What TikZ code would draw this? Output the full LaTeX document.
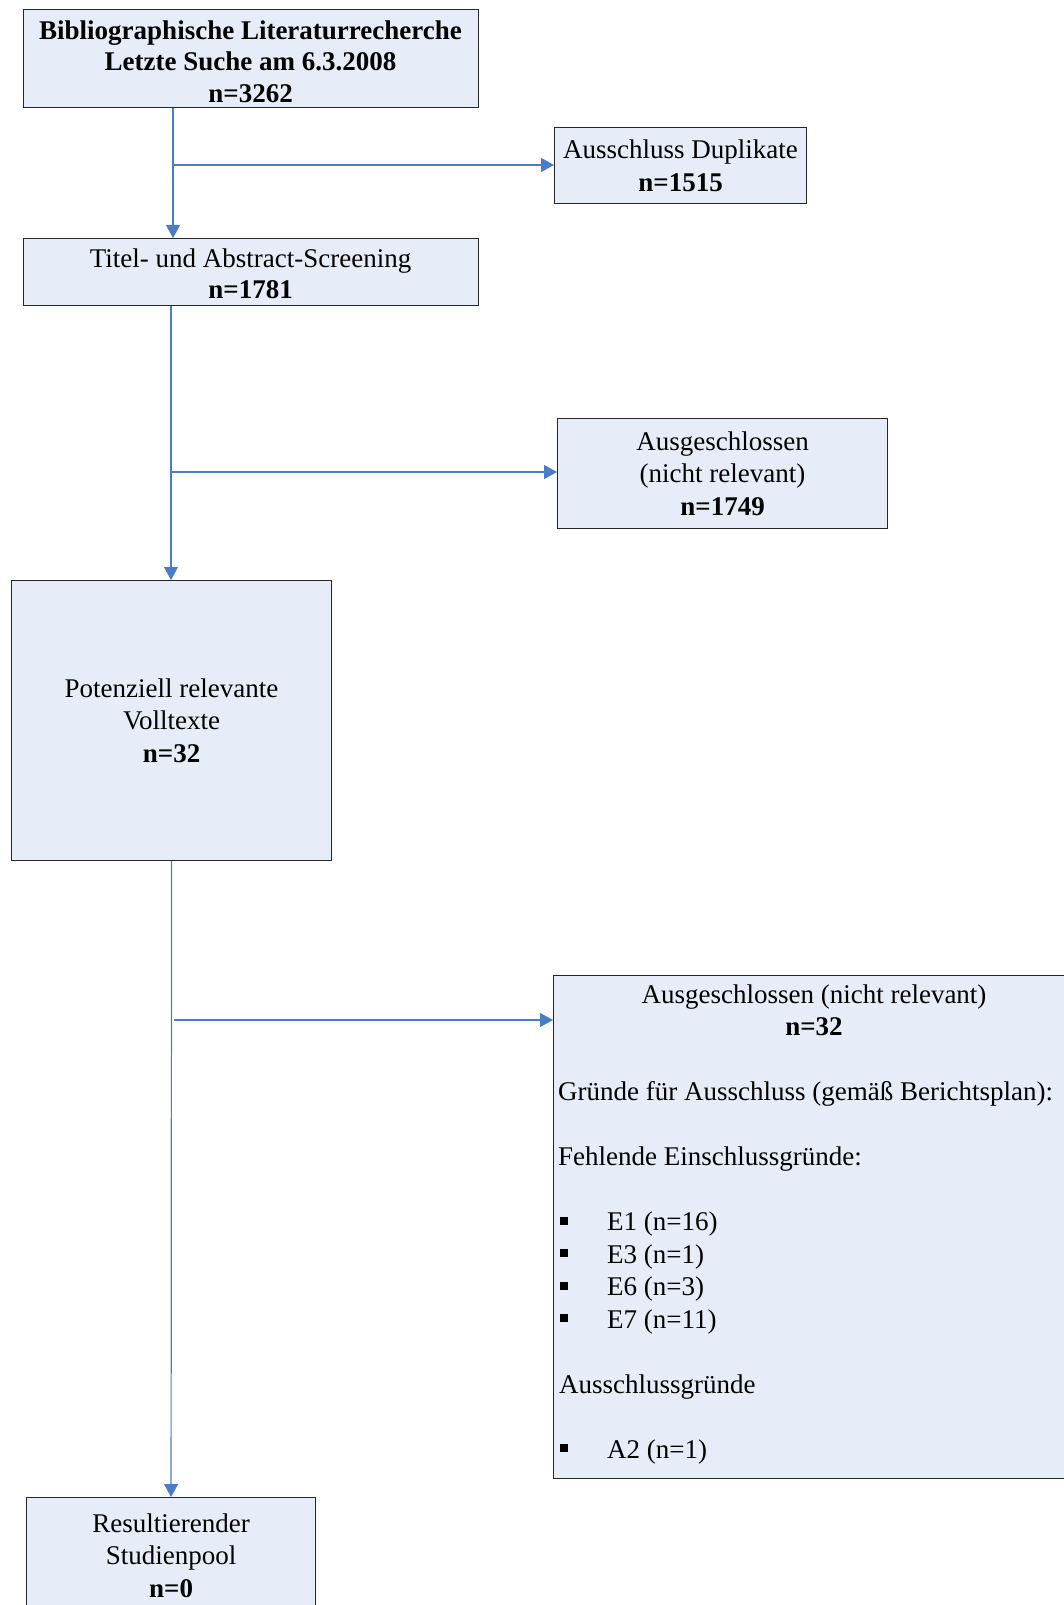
\documentclass[tikz,border=0pt]{standalone}
\usepackage{fontspec}
\setmainfont{Liberation Serif}
\usetikzlibrary{arrows.meta}
\definecolor{boxfill}{HTML}{E7EDF8}
\definecolor{flow}{HTML}{4A7CC7}
\begin{document}
\begin{tikzpicture}[x=1pt,y=-1pt,
  box/.style={draw=black!85, line width=1.1pt, fill=boxfill, inner sep=0pt,
    align=center, anchor=north west, font=\fontsize{27}{32.5}\selectfont},
  flowline/.style={draw=flow, line width=1.2pt},
  flowarrow/.style={flowline, -{Triangle[length=13pt,width=14pt]}},
  txt/.style={inner sep=0pt, anchor=base west, font=\fontsize{27}{32.5}\selectfont},
  sq/.style={fill=black, inner sep=0pt, minimum size=8pt}]
\useasboundingbox (0,0) rectangle (1063,1605);

% main boxes
\node[box, minimum width=455pt, minimum height=98pt, font=\fontsize{27}{31.5}\selectfont] (top) at (22.5,9)
  {\rule{0pt}{25pt}\textbf{Bibliographische Literaturrecherche}\\\textbf{Letzte Suche am 6.3.2008}\\\textbf{n=3262}};
\node[box, minimum width=455pt, minimum height=67pt, font=\fontsize{27}{31}\selectfont] (titel) at (22.5,238)
  {\rule{0pt}{21.5pt}Titel- und Abstract-Screening\\\textbf{n=1781}};
\node[box, minimum width=252pt, minimum height=76pt] (dup) at (554,127)
  {Ausschluss Duplikate\\\textbf{n=1515}};
\node[box, minimum width=330pt, minimum height=110pt] (aus) at (557,418)
  {Ausgeschlossen\\(nicht relevant)\\\textbf{n=1749}};
\node[box, minimum width=320pt, minimum height=280pt] (pot) at (11,580)
  {Potenziell relevante\\Volltexte\\\textbf{n=32}};
\node[box, minimum width=522pt, minimum height=503pt] (big) at (553,975) {};
\node[box, minimum width=289pt, minimum height=116pt] (res) at (26,1497)
  {Resultierender\\Studienpool\\\textbf{n=0}};

% contents of the exclusion box
\node[txt, anchor=base] (bh1) at (814,1003) {Ausgeschlossen (nicht relevant)};
\node[txt, anchor=base] (bh2) at (814,1035.5) {\textbf{n=32}};
\node[txt] (gr) at (558,1100.5) {Gründe für Ausschluss (gemäß Berichtsplan):};
\node[txt] (fe) at (558,1165.5) {Fehlende Einschlussgründe:};
\node[sq] (b1) at (564,1220.5) {};
\node[txt] (e1) at (607,1230.5) {E1 (n=16)};
\node[sq] (b2) at (564,1253) {};
\node[txt] (e3) at (607,1263) {E3 (n=1)};
\node[sq] (b3) at (564,1285.5) {};
\node[txt] (e6) at (607,1295.5) {E6 (n=3)};
\node[sq] (b4) at (564,1318) {};
\node[txt] (e7) at (607,1328) {E7 (n=11)};
\node[txt] (ag) at (559,1393) {Ausschlussgründe};
\node[sq] (b5) at (564,1448) {};
\node[txt] (a2) at (607,1458) {A2 (n=1)};

% junctions of the flow lines
\coordinate (j1) at (173,165);
\coordinate (j2) at (171,472);
\coordinate (j3) at (174,1020);

% connectors
\draw[flowarrow] (j1 |- top.south) -- (j1 |- titel.north);
\draw[flowarrow] (j1) -- (j1 -| dup.west);
\draw[flowarrow] (j2 |- titel.south) -- (j2 |- pot.north);
\draw[flowarrow] (j2) -- (j2 -| aus.west);
\draw[flowarrow] (pot.south) -- (res.north);
\draw[flowarrow] (j3) -- (j3 -| big.west);
\end{tikzpicture}
\end{document}
